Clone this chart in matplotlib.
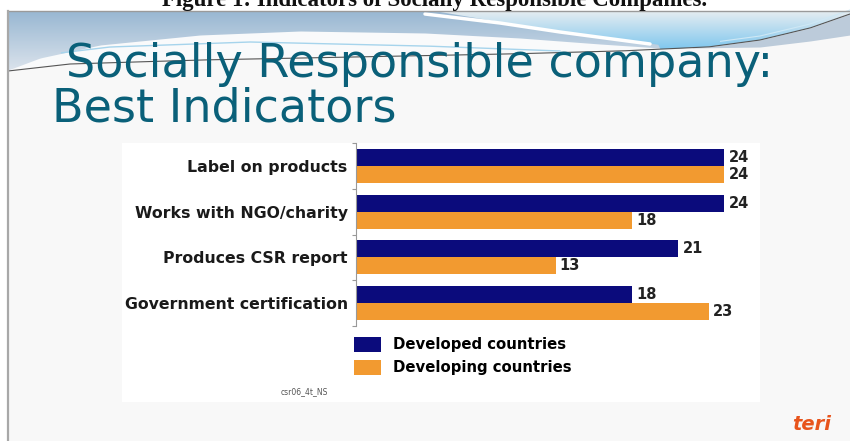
import numpy as np
import matplotlib
matplotlib.use("Agg")
import matplotlib.pyplot as plt
from matplotlib.patches import Polygon, Rectangle
from matplotlib.colors import LinearSegmentedColormap

# data
indicators = ['Label on products', 'Works with NGO/charity',
              'Produces CSR report', 'Government certification']
developed = [24, 24, 21, 18]
developing = [24, 18, 13, 23]
series_names = ['Developed countries', 'Developing countries']

navy = '#0b0b7c'
orange = '#f29a30'
teal = '#0a6079'

W, H = 850, 441
fig = plt.figure(figsize=(W / 100, H / 100), dpi=100)
fig.patch.set_facecolor('white')

# background slide drawn in pixel coordinates
bg = fig.add_axes([0, 0, 1, 1], zorder=0)
bg.set_axis_off()


def grad_fill(ax, xs, ytop, ybot, c1, c2):
    verts = list(zip(xs, ytop)) + list(zip(xs[::-1], ybot[::-1]))
    poly = Polygon(verts, closed=True, facecolor='none', edgecolor='none')
    ax.add_patch(poly)
    cmap = LinearSegmentedColormap.from_list('g', [c1, c2])
    y0, y1 = min(ytop), max(ybot)
    im = ax.imshow(np.linspace(0, 1, 256).reshape(-1, 1), cmap=cmap,
                   extent=(xs[0], xs[-1], y1, y0), aspect='auto',
                   origin='upper', zorder=poly.get_zorder())
    im.set_clip_path(poly)


xs = np.linspace(8, 850, 300)
# slide body
bg.add_patch(Rectangle((8, 11), 842, 430, facecolor='#f8f8f8', edgecolor='none'))

# dark swoosh line
line_y = np.interp(xs, [8, 70, 200, 350, 508, 620, 708, 760, 810, 850],
                   [71, 64, 60, 57, 54, 51, 47, 40, 28, 14])
grad_fill(bg, xs, np.full_like(xs, 11), line_y, '#98b7d2', '#dbe3ec')

# white hump
hump_y = np.interp(xs, [8, 40, 100, 200, 300, 425, 520, 600, 660, 850],
                   [70, 58, 45, 35, 31, 33, 38, 44, 48, 48])
hump_y = np.minimum(hump_y, line_y)
bg.fill_between(xs, hump_y, line_y, color='#f9fafb', lw=0)

# bright blue swoosh, its lower edge joins the dark line on the right
bx = np.linspace(440, 850, 200)
btop = np.full_like(bx, 12)
bline = np.interp(bx, xs, line_y)
bbot = np.where(bx < 660,
                np.interp(bx, [440, 500, 560, 620, 660], [12, 22, 31, 39, 45]),
                bline)
bbot = np.minimum(bbot, bline)
grad_fill(bg, bx, btop, bbot, '#e6edf1', '#80c7ee')
bg.plot([425, 500, 560, 620, 650], [14, 23, 32, 40, 44], color='white', lw=2.5,
        solid_capstyle='round')

# grey-blue wedge under the line at the right
wx = xs[xs >= 690]
wbot = np.interp(wx, [690, 760, 810, 850], [48, 47, 41, 35])
bg.fill_between(wx, np.interp(wx, xs, line_y), np.maximum(wbot, np.interp(wx, xs, line_y)),
                color='#bccbda', lw=0)

# thin light lines
tx = xs[xs >= 720]
bg.plot(tx, np.interp(tx, xs, line_y) - 4, color='#cfe8f5', lw=0.8)
hx = xs[(xs > 60) & (xs < 560)]
bg.plot(hx, np.interp(hx, [60, 110, 250, 425, 560], [53, 47, 42, 46, 51]),
        color='#a6d4ec', lw=1)
bg.plot(xs, line_y, color='#555555', lw=0.8)

# slide border
bg.plot([8, 850], [11, 11], color='#9a9a9a', lw=1)
bg.plot([8, 8], [11, 441], color='#a8a8a8', lw=1.6)

# chart panel
bg.add_patch(Rectangle((122, 143), 638, 259, facecolor='white', edgecolor='none'))

bg.set_xlim(0, W)
bg.set_ylim(H, 0)

# caption above the slide, cut at the top like the screenshot
bg.text(435, 6, 'Figure 1: Indicators of Socially Responsible Companies.',
        family='Liberation Serif', fontweight='bold', fontsize=16.5,
        ha='center', va='baseline', color='#111111')

# slide title
bg.text(66, 77, 'Socially Responsible company:', fontsize=33.2, color=teal,
        va='baseline', ha='left')
bg.text(52, 122, 'Best Indicators', fontsize=33.2, color=teal,
        va='baseline', ha='left')

bg.text(281, 392, 'csr06_4t_NS', fontsize=5.5, color='#555555', va='center')
bg.text(792, 430, 'teri', fontsize=14, fontweight='bold', style='italic',
        color='#e8541c', va='baseline')

# bar chart
ax = fig.add_axes([356 / W, 1 - 326 / H, 399 / W, 183 / H], zorder=2)
ax.set_facecolor('none')
y = np.arange(len(indicators))
h = 0.372
b1 = ax.barh(y - h / 2, developed, height=h, color=navy, label=series_names[0])
b2 = ax.barh(y + h / 2, developing, height=h, color=orange, label=series_names[1])
for cont in (b1, b2):
    ax.bar_label(cont, padding=3, fontsize=10.5, fontweight='bold', color='#222222')

ax.set_xlim(0, 26)
ax.set_ylim(len(indicators) - 0.5, -0.5)
ax.set_xticks([])
ax.set_yticks(y, indicators, fontsize=11.3, fontweight='bold', color='#1a1a1a')
ax.set_yticks(np.arange(-0.5, len(indicators)), minor=True)
ax.tick_params(axis='y', which='major', length=0, pad=6)
ax.tick_params(axis='y', which='minor', length=3, color='#999999', width=0.8)
for s in ['top', 'right', 'bottom']:
    ax.spines[s].set_visible(False)
ax.spines['left'].set_color('#999999')
ax.spines['left'].set_linewidth(0.8)

ax.legend(loc='upper left', bbox_to_anchor=(354 / W, 1 - 337 / H),
          bbox_transform=fig.transFigure, frameon=False, borderpad=0,
          borderaxespad=0, handlelength=1.8, handleheight=1.15,
          labelspacing=0.5, handletextpad=0.85,
          prop={'size': 10.7, 'weight': 'bold'})

fig.savefig('out.png', dpi=100)
